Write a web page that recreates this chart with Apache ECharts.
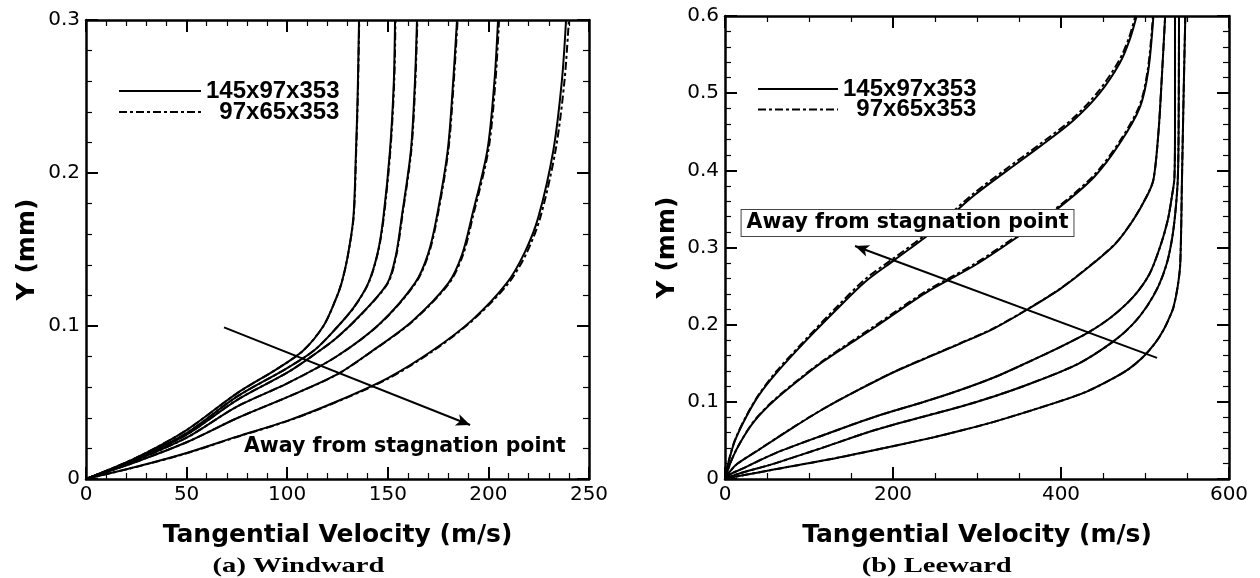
<!DOCTYPE html>
<html>
<head>
<meta charset="utf-8">
<title>Tangential velocity profiles</title>
<script src="https://cdn.jsdelivr.net/npm/echarts@6/dist/echarts.min.js"></script>
<style>
  html, body { margin: 0; padding: 0; background: #fff; }
  #chart { width: 1260px; height: 578px; }
</style>
</head>
<body>
<div id="chart"></div>
<script>
// Grid resolutions compared in both panels
const gridLabels = ['145x97x353', '97x65x353'];

// Axis ticks
const windwardXTicks = [0, 50, 100, 150, 200, 250];
const windwardYTicks = [0, 0.1, 0.2, 0.3];
const leewardXTicks = [0, 200, 400, 600];
const leewardYTicks = [0, 0.1, 0.2, 0.3, 0.4, 0.5, 0.6];

// Windward profiles, [tangential velocity (m/s), Y (mm)], fine grid
const windwardFine = [
  [[0,0],[25,0.0139],[50,0.032],[75,0.056],[95,0.072],[108,0.084],[118,0.1],[124,0.117],[127,0.128],[130,0.145],[132.9,0.171],[134.2,0.215],[135,0.25],[135.7,0.3]],
  [[0,0],[25,0.0133],[50,0.030],[75,0.0538],[100,0.0725],[113.8,0.0845],[124.3,0.0985],[133,0.112],[140.3,0.128],[145,0.148],[147.8,0.171],[151.1,0.215],[153,0.26],[153.6,0.3]],
  [[0,0],[25,0.0129],[50,0.029],[75,0.0516],[100,0.0695],[112,0.08],[124.3,0.092],[137,0.108],[149.8,0.128],[154,0.146],[156.9,0.171],[161.5,0.215],[163.5,0.26],[164.5,0.3]],
  [[0,0],[25,0.0124],[50,0.027],[75,0.0473],[100,0.0625],[124.3,0.0799],[146,0.1015],[163.5,0.128],[170,0.147],[174.3,0.171],[179.8,0.215],[182.5,0.26],[184.4,0.3]],
  [[0,0],[25,0.0113],[50,0.024],[75,0.0397],[100,0.0535],[124.3,0.068],[142,0.0835],[162,0.103],[180.1,0.128],[187,0.147],[191.7,0.171],[199.5,0.215],[203,0.26],[204.8,0.3]],
  [[0,0],[25,0.008],[50,0.017],[75,0.0277],[100,0.038],[124.3,0.0505],[150,0.066],[172.6,0.0843],[192,0.104],[209.1,0.128],[218,0.148],[224.8,0.171],[232.3,0.215],[236.5,0.26],[238.6,0.3]]
];

// Windward profiles, coarse grid
const windwardCoarse = [
  [[0,0],[25,0.0139],[50,0.032],[75,0.056],[95,0.072],[108,0.084],[118,0.1],[124,0.117],[127,0.128],[130,0.145],[133,0.171],[134.3,0.215],[135.1,0.25],[135.8,0.3]],
  [[0,0],[25,0.0133],[50,0.030],[75,0.0538],[100,0.0725],[113.8,0.0845],[124.3,0.0985],[133.1,0.112],[140.4,0.128],[145.1,0.148],[148,0.171],[151.3,0.215],[153.2,0.26],[153.8,0.3]],
  [[0,0],[25,0.0129],[50,0.029],[75,0.0516],[100,0.0695],[112,0.08],[124.3,0.092],[137.1,0.108],[150,0.128],[154.2,0.146],[157.1,0.171],[161.7,0.215],[163.7,0.26],[164.7,0.3]],
  [[0,0],[25,0.0124],[50,0.027],[75,0.0473],[100,0.0625],[124.3,0.0799],[146.2,0.1015],[163.8,0.128],[170.3,0.147],[174.6,0.171],[180.1,0.215],[182.8,0.26],[184.7,0.3]],
  [[0,0],[25,0.0113],[50,0.024],[75,0.0397],[100,0.0535],[124.3,0.068],[142.2,0.0835],[162.3,0.103],[180.5,0.128],[187.5,0.147],[192.2,0.171],[200,0.215],[203.5,0.26],[205.3,0.3]],
  [[0,0],[25,0.0079],[50,0.0168],[75,0.0275],[100,0.0378],[124.3,0.0502],[150,0.0655],[172.6,0.0838],[192,0.1035],[209.6,0.1273],[218.8,0.1472],[225.8,0.171],[233.4,0.215],[237.8,0.26],[240,0.3]]
];

// Leeward profiles, fine grid
const leewardFine = [
  [[0,0],[5,0.025],[12,0.05],[25,0.08],[40,0.108],[60,0.136],[97,0.18],[134,0.221],[167,0.2557],[202,0.284],[250,0.323],[296,0.367],[335,0.399],[375,0.431],[415,0.465],[446,0.5],[470,0.539],[482,0.57],[490,0.6]],
  [[0,0],[8,0.025],[18,0.047],[35,0.075],[58,0.101],[90,0.13],[119,0.154],[179,0.197],[238,0.2406],[298,0.2773],[350,0.315],[399,0.353],[440,0.392],[470,0.435],[494,0.482],[504,0.53],[510,0.6]],
  [[0,0],[6,0.01],[15,0.02],[40,0.0376],[80,0.066],[119,0.092],[160,0.116],[200,0.138],[240,0.157],[280,0.1755],[320,0.195],[359,0.219],[400,0.247],[438.5,0.2795],[465,0.305],[486,0.3356],[502,0.366],[510,0.3875],[516,0.449],[520,0.52],[524,0.6]],
  [[0,0],[6,0.006],[20,0.013],[59.5,0.0333],[120,0.058],[178.6,0.0807],[240,0.101],[280,0.1153],[320,0.1315],[359,0.1505],[400,0.1715],[432.6,0.19],[460,0.21],[486,0.236],[505,0.265],[518,0.301],[527,0.335],[532,0.366],[535,0.39],[535.7,0.45],[535.7,0.6]],
  [[0,0],[6,0.003],[20,0.008],[59.5,0.0203],[120,0.042],[178.6,0.0635],[240,0.082],[280,0.0937],[320,0.107],[359,0.1218],[420,0.149],[462,0.178],[485,0.2],[502,0.2233],[516,0.25],[526,0.2795],[532,0.31],[536,0.344],[539,0.3875],[540,0.45],[540.5,0.6]],
  [[0,0],[20,0.0045],[59.5,0.0125],[120,0.0245],[178.6,0.0376],[240,0.052],[280,0.0625],[320,0.074],[391,0.098],[430,0.113],[458,0.128],[480,0.142],[498,0.1585],[512,0.176],[522,0.193],[529,0.209],[534,0.223],[539,0.25],[542,0.28],[544,0.3875],[546,0.5],[548,0.6]]
];

// Leeward profiles, coarse grid
const leewardCoarse = [
  [[0,0],[5,0.026],[12,0.051],[25,0.081],[40,0.109],[60,0.138],[97,0.182],[134,0.224],[167,0.259],[202,0.287],[250,0.326],[296,0.370],[335,0.402],[375,0.434],[415,0.468],[445,0.503],[469,0.542],[481,0.572],[488.5,0.6]],
  [[0,0],[8,0.025],[18,0.047],[35,0.076],[58,0.102],[90,0.131],[119,0.155],[179,0.199],[238,0.2425],[298,0.2793],[350,0.317],[399,0.355],[439.5,0.394],[469.5,0.437],[493.5,0.484],[503.5,0.532],[509.5,0.6]],
  [[0,0],[6,0.01],[15,0.02],[40,0.0378],[80,0.0663],[119,0.0922],[160,0.1163],[200,0.1383],[240,0.1574],[280,0.1759],[320,0.1954],[359,0.2194],[400,0.2474],[438.5,0.28],[465,0.3055],[486,0.336],[502,0.3665],[510,0.388],[516,0.449],[520,0.52],[524,0.6]],
  [[0,0],[6,0.006],[20,0.013],[59.5,0.0333],[120,0.058],[178.6,0.0807],[240,0.101],[280,0.1153],[320,0.1315],[359,0.1505],[400,0.1715],[432.6,0.19],[460,0.21],[486,0.236],[505,0.265],[518,0.301],[527,0.335],[532,0.366],[535,0.39],[535.7,0.45],[535.7,0.6]],
  [[0,0],[6,0.003],[20,0.008],[59.5,0.0203],[120,0.042],[178.6,0.0635],[240,0.082],[280,0.0937],[320,0.107],[359,0.1218],[420,0.149],[462,0.178],[485,0.2],[502,0.2233],[516,0.25],[526,0.2795],[532,0.31],[536,0.344],[539,0.3875],[540,0.45],[540.5,0.6]],
  [[0,0],[20,0.0045],[59.5,0.0125],[120,0.0245],[178.6,0.0376],[240,0.052],[280,0.0625],[320,0.074],[391,0.098],[430,0.113],[458,0.128],[480,0.142],[498,0.1585],[512,0.176],[522,0.193],[529,0.209],[534,0.223],[539,0.25],[542,0.28],[544,0.3875],[546,0.5],[548,0.6]]
];

// Annotation arrows and text anchors, in data units of each panel
const windwardArrow = [[68.6, 0.0991], [190.9, 0.0353]];
const windwardNoteAt = [158.5, 0.0209];
const leewardArrow = [[514.3, 0.157], [154.8, 0.302]];
const leewardNoteAt = [217.3, 0.3317];
const noteText = 'Away from stagnation point';

const INK = '#000';
const dashDot = [8, 3, 3, 3];

function axisStyle(ticks, minorSplit, showLabels) {
  return {
    type: 'value',
    min: ticks[0],
    max: ticks[ticks.length - 1],
    interval: ticks[1] - ticks[0],
    axisLine: { show: true, onZero: false, lineStyle: { color: INK, width: 2.5 } },
    axisTick: { show: true, inside: true, length: 12, lineStyle: { color: INK, width: 2 } },
    minorTick: { show: true, splitNumber: minorSplit, length: 6, lineStyle: { color: INK, width: 1.2 } },
    splitLine: { show: false },
    minorSplitLine: { show: false },
    axisLabel: {
      show: showLabels, color: INK, fontFamily: 'DejaVu Sans', fontSize: 20, margin: 6,
      showMinLabel: true, showMaxLabel: true
    }
  };
}

const titleFont = { color: INK, fontFamily: 'DejaVu Sans', fontWeight: 'bold', fontSize: 25 };

function xAxes(ticks, minorSplit, gridIndex) {
  return [
    Object.assign(axisStyle(ticks, minorSplit, true), {
      gridIndex, position: 'bottom',
      name: 'Tangential Velocity (m/s)', nameLocation: 'middle', nameGap: 44, nameTextStyle: titleFont
    }),
    Object.assign(axisStyle(ticks, minorSplit, false), { gridIndex, position: 'top' })
  ];
}

function yAxes(ticks, minorSplit, gridIndex, nameGap) {
  return [
    Object.assign(axisStyle(ticks, minorSplit, true), {
      gridIndex, position: 'left',
      name: 'Y (mm)', nameLocation: 'middle', nameGap, nameTextStyle: titleFont
    }),
    Object.assign(axisStyle(ticks, minorSplit, false), { gridIndex, position: 'right' })
  ];
}

function profileSeries(curves, name, dashed, xAxisIndex, yAxisIndex) {
  return curves.map(data => ({
    type: 'line',
    name,
    data,
    xAxisIndex,
    yAxisIndex,
    symbol: 'none',
    showSymbol: false,
    smooth: 0.3,
    lineStyle: { color: INK, width: 2, type: dashed ? dashDot : 'solid' },
    itemStyle: { color: INK },
    emphasis: { disabled: true },
    z: dashed ? 2 : 3
  }));
}

function noteSeries(arrow, noteAt, xAxisIndex, yAxisIndex, boxed) {
  return {
    type: 'line',
    name: 'note',
    data: [],
    xAxisIndex,
    yAxisIndex,
    silent: true,
    markLine: {
      silent: true,
      symbol: ['none', 'arrow'],
      symbolSize: [9, 14],
      label: { show: false },
      lineStyle: { color: INK, width: 2, type: 'solid' },
      data: [[{ coord: arrow[0] }, { coord: arrow[1] }]]
    },
    markPoint: {
      silent: true,
      symbol: 'rect',
      symbolSize: 1,
      itemStyle: { color: 'rgba(0,0,0,0)' },
      label: Object.assign({
        show: true,
        position: 'inside',
        formatter: noteText,
        color: INK,
        fontFamily: 'DejaVu Sans',
        fontWeight: 'bold',
        fontSize: 20.5
      }, boxed ? {
        backgroundColor: '#fff', borderColor: '#444', borderWidth: 1, padding: [3, 5, 2, 5]
      } : {}),
      data: [{ coord: noteAt }]
    },
    z: 4
  };
}

function legendAt(left, top, itemWidth, gap) {
  return {
    left, top,
    padding: 0,
    orient: 'vertical',
    itemWidth, itemHeight: 14, itemGap: gap,
    selectedMode: false,
    data: gridLabels,
    itemStyle: { opacity: 0 },
    formatter: name => (name === gridLabels[1] ? '  ' + name : name),
    textStyle: { color: INK, fontFamily: 'Liberation Sans', fontWeight: 'bold', fontSize: 24 }
  };
}

const chart = echarts.init(document.getElementById('chart'), null, { renderer: 'canvas' });

chart.setOption({
  animation: false,
  backgroundColor: '#fff',
  grid: [
    { left: 86, right: 671, top: 20, bottom: 99 },
    { left: 725, right: 31, top: 16, bottom: 99 }
  ],
  xAxis: [].concat(xAxes(windwardXTicks, 5, 0), xAxes(leewardXTicks, 4, 1)),
  yAxis: [].concat(yAxes(windwardYTicks, 5, 0, 46), yAxes(leewardYTicks, 5, 1, 45)),
  legend: [legendAt(118, 79, 82, -3), legendAt(757, 77, 80, -3.5)],
  series: [].concat(
    profileSeries(windwardCoarse, gridLabels[1], true, 0, 0),
    profileSeries(windwardFine, gridLabels[0], false, 0, 0),
    profileSeries(leewardCoarse, gridLabels[1], true, 2, 2),
    profileSeries(leewardFine, gridLabels[0], false, 2, 2),
    [noteSeries(windwardArrow, windwardNoteAt, 0, 0, false),
     noteSeries(leewardArrow, leewardNoteAt, 2, 2, true)]
  ),
  graphic: [
    { type: 'text', x: 298.5, y: 566, scaleX: 1.3,
      style: { text: '(a) Windward', fontFamily: 'Liberation Serif', fontWeight: 'bold', fontSize: 22,
               fill: INK, align: 'center', verticalAlign: 'middle' } },
    { type: 'text', x: 936.7, y: 566, scaleX: 1.3,
      style: { text: '(b) Leeward', fontFamily: 'Liberation Serif', fontWeight: 'bold', fontSize: 22,
               fill: INK, align: 'center', verticalAlign: 'middle' } }
  ]
});
</script>
</body>
</html>
